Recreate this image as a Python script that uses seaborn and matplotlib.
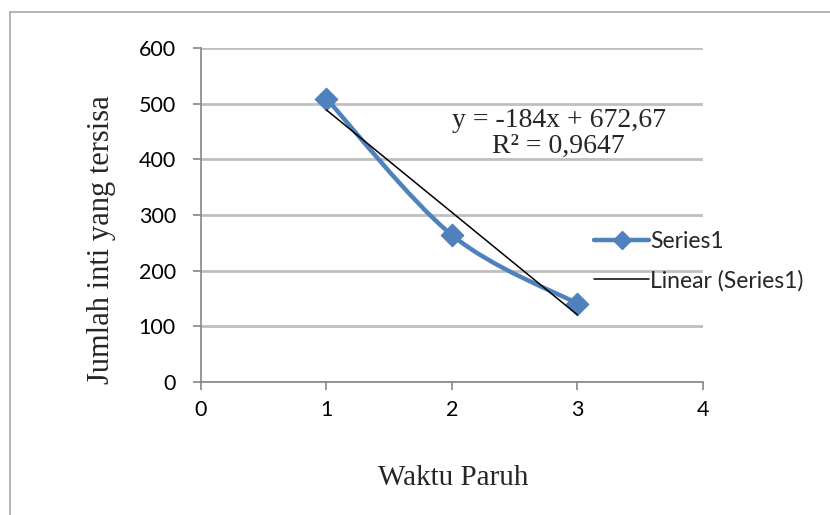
import numpy as np
import pandas as pd
import matplotlib
matplotlib.use("Agg")
import matplotlib.pyplot as plt
from matplotlib.path import Path
from matplotlib.patches import PathPatch, Rectangle
from matplotlib.lines import Line2D
import seaborn as sns

# data
waktu = [1, 2, 3]
jumlah = [509, 264, 141]
x_ticks = [0, 1, 2, 3, 4]
y_ticks = [0, 100, 200, 300, 400, 500, 600]
eq_text = "y = -184x + 672,67\nR² = 0,9647"

df = pd.DataFrame({"Waktu Paruh": waktu, "Jumlah": jumlah})

sns.set_style("white")
plt.rcParams["font.family"] = ["Lato", "DejaVu Sans"]

blue = "#4F81BD"
grid_c = "#BFBFBF"
axis_c = "#868686"
serif = ["Liberation Serif", "DejaVu Serif"]

fig = plt.figure(figsize=(8.3, 5.15), dpi=100)
ax = fig.add_axes([0.242, 0.258, 0.605, 0.649])

# outer chart frame
fig.patches.append(Rectangle((10 / 830, -0.5), 1.5, 1.5 - 12 / 515,
                             transform=fig.transFigure, fill=False,
                             edgecolor="#A6A6A6", lw=1.2))

# smoothed series line (Catmull-Rom -> Bezier, like Excel smoothing)
pts = np.column_stack([waktu, jumlah]).astype(float)
verts = [tuple(pts[0])]
codes = [Path.MOVETO]
n = len(pts)
for i in range(n - 1):
    p0 = pts[max(i - 1, 0)]
    p1 = pts[i]
    p2 = pts[i + 1]
    p3 = pts[min(i + 2, n - 1)]
    c1 = p1 + (p2 - p0) / 6
    c2 = p2 - (p3 - p1) / 6
    verts += [tuple(c1), tuple(c2), tuple(p2)]
    codes += [Path.CURVE4] * 3
ax.add_patch(PathPatch(Path(verts, codes), fill=False, edgecolor=blue,
                       lw=3.2, capstyle="round", joinstyle="round", zorder=3))

sns.scatterplot(data=df, x="Waktu Paruh", y="Jumlah", marker="D", s=130,
                color=blue, edgecolor=blue, ax=ax, zorder=4)

# linear trendline
sns.regplot(data=df, x="Waktu Paruh", y="Jumlah", scatter=False, ci=None,
            truncate=True, color="black", line_kws={"lw": 1.1, "zorder": 5},
            ax=ax)

ax.set_xlim(0, 4)
ax.set_ylim(0, 600)
ax.set_xticks(x_ticks)
ax.set_yticks(y_ticks)
ax.tick_params(axis="both", labelsize=15.5, colors=axis_c, labelcolor="black",
               length=6, width=1.2, direction="out")
ax.tick_params(axis="x", pad=7)
ax.tick_params(axis="y", pad=12)
ax.grid(axis="y", color=grid_c, lw=2)
ax.set_axisbelow(True)
for s in ["top", "right"]:
    ax.spines[s].set_visible(False)
for s in ["left", "bottom"]:
    ax.spines[s].set_color(axis_c)
    ax.spines[s].set_linewidth(1.2)
ax.xaxis.set_ticks_position("bottom")
ax.yaxis.set_ticks_position("left")

ax.set_xlabel("")
ax.set_ylabel("")
fig.text(453 / 830, 1 - 478 / 515, "Waktu Paruh", ha="center", va="center",
         fontsize=21, family=serif)
fig.text(101 / 830, 1 - 240 / 515, "Jumlah inti yang tersisa", ha="center",
         va="center", rotation=90, fontsize=22, family=serif)

ax.text(2.85, 446, eq_text, ha="center", va="center", fontsize=20,
        linespacing=1.05, family=serif)

handles = [
    Line2D([0], [0], color=blue, lw=3.2, marker="D", markersize=9),
    Line2D([0], [0], color="black", lw=1.1),
]
fig.legend(handles, ["Series1", "Linear (Series1)"], loc="center left",
           bbox_to_anchor=(594 / 830, 1 - 261 / 515), frameon=False,
           fontsize=16.5, handlelength=2.4, handletextpad=0.05,
           labelspacing=0.8, borderaxespad=0, borderpad=0)

fig.savefig("out.png", dpi=100)
